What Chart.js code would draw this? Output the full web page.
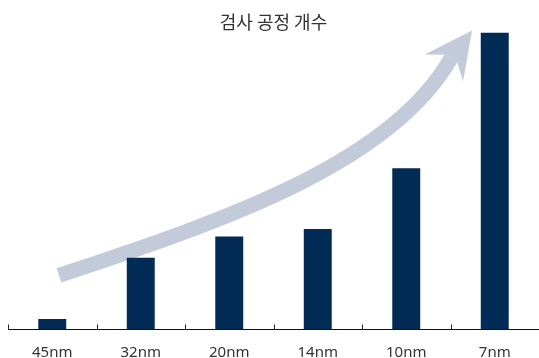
<!DOCTYPE html>
<html>
<head>
<meta charset="utf-8">
<script src="https://cdn.jsdelivr.net/npm/chart.js@4/dist/chart.umd.min.js"></script>
<style>
  html, body { margin: 0; padding: 0; background: #fff; }
  #wrap { width: 539px; height: 358px; }
</style>
</head>
<body>
<div id="wrap"><canvas id="myChart" width="539" height="358"></canvas></div>
<script>
// data (7nm = 100)
var nodes = ['45nm', '32nm', '20nm', '14nm', '10nm', '7nm'];
var steps = [3.4, 24.0, 31.2, 33.7, 54.2, 100];

var barColor = '#022b55';
var arrowColor = '#c3cad9';

// big curved "growth" arrow behind the bars, placed as fractions of the chart area
var trendArrow = {
  id: 'trendArrow',
  beforeDatasetsDraw: function(chart) {
    var a = chart.chartArea;
    var ctx = chart.ctx;
    function px(fx) { return a.left + (a.right - a.left) * fx; }
    function py(fy) { return a.top + (a.bottom - a.top) * fy; }
    ctx.save();
    ctx.strokeStyle = arrowColor;
    ctx.fillStyle = arrowColor;
    ctx.lineWidth = 15;
    ctx.lineCap = 'butt';
    ctx.beginPath();
    ctx.moveTo(px(0.096), py(0.819));
    ctx.bezierCurveTo(px(0.416), py(0.631), px(0.723), py(0.436), px(0.834), py(0.087));
    ctx.stroke();
    // head
    ctx.beginPath();
    ctx.moveTo(px(0.785), py(0.074));
    ctx.lineTo(px(0.874), py(-0.007));
    ctx.lineTo(px(0.857), py(0.164));
    ctx.lineTo(px(0.846), py(0.100));
    ctx.lineTo(px(0.822), py(0.075));
    ctx.closePath();
    ctx.fill();
    ctx.restore();
  }
};

// small tick marks pointing up from the axis, at the category boundaries
var upTicks = {
  id: 'upTicks',
  afterDatasetsDraw: function(chart) {
    var xs = chart.scales.x;
    var ctx = chart.ctx;
    var y = Math.round(chart.chartArea.bottom) + 0.5;
    ctx.save();
    ctx.strokeStyle = '#222';
    ctx.lineWidth = 1;
    ctx.beginPath();
    for (var i = 0; i <= nodes.length; i++) {
      var x = Math.round(xs.getPixelForValue(i - 0.5)) + 0.5;
      ctx.moveTo(x, y);
      ctx.lineTo(x, y - 5);
    }
    ctx.stroke();
    ctx.restore();
  }
};

var ctx = document.getElementById('myChart').getContext('2d');

var myChart = new Chart(ctx, {
  type: 'bar',
  data: {
    labels: nodes,
    datasets: [{
      data: steps,
      backgroundColor: barColor,
      barPercentage: 0.316,
      categoryPercentage: 1
    }]
  },
  options: {
    responsive: false,
    animation: false,
    layout: { padding: { left: 8, right: 0, top: 0, bottom: -18 } },
    plugins: {
      legend: { display: false },
      tooltip: { enabled: false },
      title: {
        display: true,
        text: '검사 공정 개수',
        color: '#333',
        font: { family: '"Noto Sans CJK KR", "Noto Sans", sans-serif', size: 18, weight: 'normal' },
        padding: { top: 11, bottom: 0 }
      }
    },
    scales: {
      x: {
        grid: {
          offset: true,
          display: false,
          drawTicks: false
        },
        border: { display: true, color: '#111', width: 1 },
        ticks: {
          color: '#333',
          padding: 14.5,
          font: { family: '"Noto Sans", sans-serif', size: 15 }
        }
      },
      y: {
        display: false,
        min: 0,
        max: 100
      }
    }
  },
  plugins: [trendArrow, upTicks]
});
</script>
</body>
</html>
